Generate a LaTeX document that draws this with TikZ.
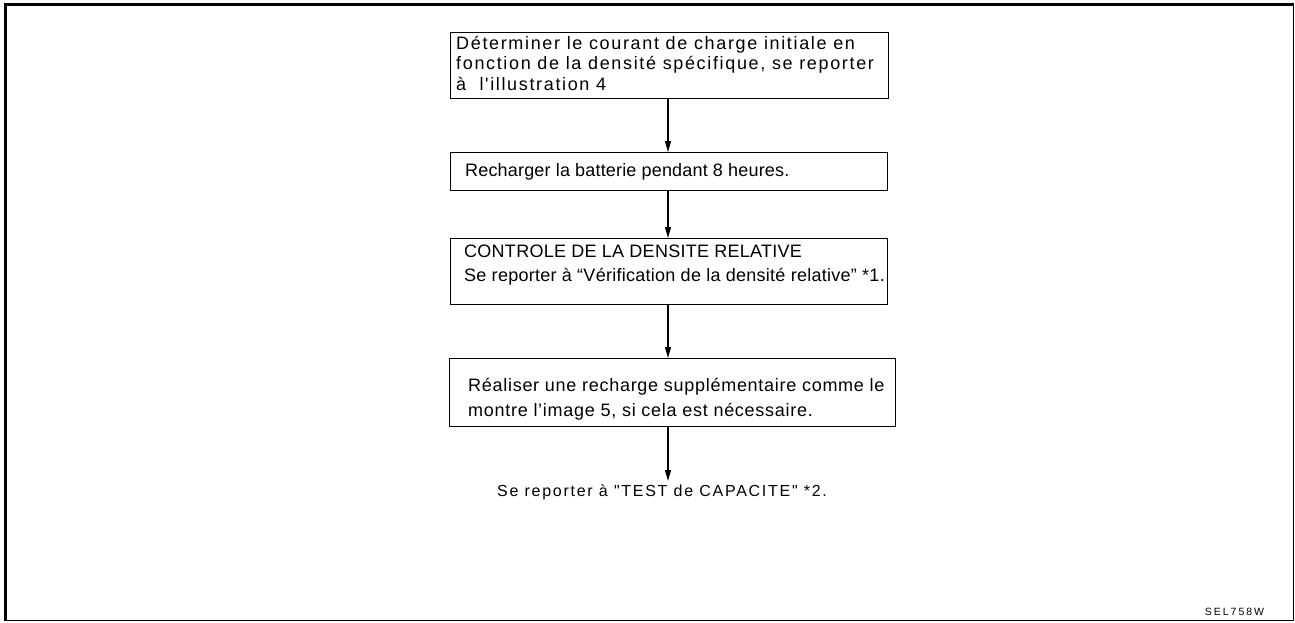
\documentclass[tikz,border=0pt]{standalone}
\usepackage{fontspec}
\setmainfont{Liberation Sans}
\newfontfamily\rawsans{Liberation Sans}
\usetikzlibrary{arrows.meta}
\newcommand{\ls}[2]{\fontsize{#1}{#1}\rawsans\addfontfeature{LetterSpace=#2}}
\begin{document}
\begin{tikzpicture}[x=1pt,y=-1pt,
  box/.style={draw, line width=1.1pt, inner sep=0pt, anchor=north west},
  arr/.style={-{Triangle[length=11pt,width=6pt]}, line width=1.3pt},
  txt/.style={anchor=west, inner sep=0pt, align=left}]
\useasboundingbox (0,0) rectangle (1295,622);
\draw[line width=1pt] (5,5) rectangle (1293.5,620.5);
\draw[line width=3pt] (5.5,621) -- (5.5,4.5) -- (1294,4.5);
\node[box, minimum width=438, minimum height=66] (b1) at (450,32) {};
\node[box, minimum width=437, minimum height=38] (b2) at (450,152) {};
\node[box, minimum width=437, minimum height=66] (b3) at (450,238) {};
\node[box, minimum width=446, minimum height=68] (b4) at (449,358) {};
\node[txt, font={\ls{18}{9.2}\fontsize{18}{20.5}\selectfont}] (t1) at (456,63) {Déterminer le courant de charge initiale en\\fonction de la densité spécifique, se reporter\\à\ \ l'illustration 4};
\node[txt, font={\ls{18}{1}\fontsize{18}{20}\selectfont}] (t2) at (465,171.5) {Recharger la batterie pendant 8 heures.};
\node[txt, font={\ls{18}{1.5}\fontsize{18}{24}\selectfont}] (t3) at (464,265) {CONTROLE DE LA DENSITE RELATIVE\\Se reporter à “Vérification de la densité relative” *1.};
\node[txt, font={\ls{18}{4}\fontsize{18}{25}\selectfont}] (t4) at (468,399.5) {Réaliser une recharge supplémentaire comme le\\montre l’image 5, si cela est nécessaire.};
\coordinate (end) at (668,481);
\node[anchor=west, inner sep=0pt, font={\ls{16}{10.8}}] (t5) at (497,492) {Se reporter à "TEST de CAPACITE" *2.};
\node[anchor=center, inner sep=0pt, font={\ls{10.5}{19}}] (ref) at (1234.5,611.5) {SEL758W};
\draw[arr] (b1.south -| end) -- (b2.north -| end);
\draw[arr] (b2.south -| end) -- (b3.north -| end);
\draw[arr] (b3.south -| end) -- (b4.north -| end);
\draw[arr] (b4.south -| end) -- (end);
\end{tikzpicture}
\end{document}
